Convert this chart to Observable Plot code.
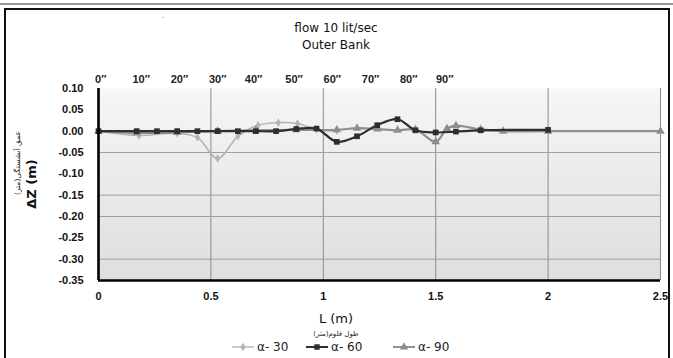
<!DOCTYPE html>
<html>
<head>
<meta charset="utf-8">
<script src="https://cdn.jsdelivr.net/npm/d3@7"></script>
<script src="https://cdn.jsdelivr.net/npm/@observablehq/plot@0.6"></script>
<style>
  html, body { margin: 0; padding: 0; background: #fff; }
  #chart { width: 673px; height: 358px; }
</style>
</head>
<body>
<div id="chart"></div>
<script>
// ---- data ----
const seriesNames = ["α- 30", "α- 60", "α- 90"];

const L30 = [0, 0.18, 0.35, 0.44, 0.53, 0.62, 0.71, 0.80, 0.885, 0.97, 1.06];
const Z30 = [0, -0.010, -0.005, -0.015, -0.064, -0.012, 0.014, 0.020, 0.018, 0.004, 0.001];

const L60 = [0, 0.17, 0.26, 0.35, 0.44, 0.53, 0.62, 0.70, 0.79, 0.88, 0.97, 1.06, 1.15, 1.24, 1.33, 1.41, 1.50, 1.59, 1.70, 2.0];
const Z60 = [0, 0, 0, 0, 0, 0, 0, 0, 0, 0.005, 0.006, -0.025, -0.012, 0.014, 0.028, 0.002, -0.003, -0.001, 0.002, 0.003];

const L90 = [0, 0.17, 0.35, 0.53, 0.70, 0.88, 1.06, 1.15, 1.24, 1.33, 1.41, 1.50, 1.55, 1.59, 1.70, 1.80, 2.0, 2.5];
const Z90 = [0, -0.004, -0.003, 0, 0.002, 0.003, 0.003, 0.007, 0.005, 0.002, 0.004, -0.025, 0.006, 0.013, 0.004, 0, 0, 0];

const xTicks = [0, 0.5, 1, 1.5, 2, 2.5];
const xTickLabels = ["0", "0.5", "1", "1.5", "2", "2.5"];
const yTicks = [0.10, 0.05, 0.00, -0.05, -0.10, -0.15, -0.20, -0.25, -0.30, -0.35];
const yGridVisible = [-0.05, -0.15, -0.20, -0.30];
const degLabels = ["0″", "10″", "20″", "30″", "40″", "50″", "60″", "70″", "80″", "90″"];
const degPos = [0.01, 0.19, 0.36, 0.53, 0.69, 0.87, 1.04, 1.21, 1.38, 1.54];

// ---- styles ----
const colors = {"α- 30": "#b4b4b4", "α- 60": "#2e2e2e", "α- 90": "#8e8e8e"};
const symbols = {"α- 30": "diamond", "α- 60": "square", "α- 90": "triangle"};
const widths = {"α- 30": 1.6, "α- 60": 2.2, "α- 90": 2.2};

function rows(name, Ls, Zs) { return Ls.map((L, i) => ({series: name, L, dz: Zs[i]})); }
const s30 = rows("α- 30", L30, Z30);
const s60 = rows("α- 60", L60, Z60);
const s90 = rows("α- 90", L90, Z90);
const order = [["α- 30", s30], ["α- 90", s90], ["α- 60", s60]];

const marks = [
  Plot.frame({fill: "url(#bgGrad)", stroke: "none"}),
  Plot.gridX(xTicks.filter(d => d > 0), {stroke: "#8a8a8a", strokeOpacity: 1, strokeWidth: 1}),
  Plot.gridY(yGridVisible, {stroke: "#a0a0a0", strokeOpacity: 1, strokeWidth: 1}),
  Plot.axisY(yTicks, {tickSize: 0, tickPadding: 15, tickFormat: d => d.toFixed(2), fontWeight: "bold", fontSize: 11, label: null}),
  Plot.axisX(xTicks, {tickSize: 0, tickPadding: 12, tickFormat: (d, i) => xTickLabels[xTicks.indexOf(d)], fontWeight: "bold", fontSize: 11, label: null}),
  Plot.text(degLabels, {x: degPos, text: degLabels, frameAnchor: "top", dy: -13, fontSize: 11, fontWeight: "bold", fill: "#222"})
];
for (const [name, d] of order) {
  marks.push(Plot.line(d, {x: "L", y: "dz", stroke: colors[name], strokeWidth: widths[name], curve: "catmull-rom"}));
  marks.push(Plot.dot(d, {x: "L", y: "dz", fill: colors[name], symbol: symbols[name], r: name === "α- 30" ? 2.6 : 3.2, stroke: "none"}));
}
marks.push(Plot.ruleX([0], {stroke: "black", strokeWidth: 2.6}));
marks.push(Plot.ruleY([-0.35], {stroke: "black", strokeWidth: 2.6}));

const svgEl = Plot.plot({
  width: 673, height: 358,
  marginTop: 88, marginBottom: 78, marginLeft: 98, marginRight: 13,
  style: {background: "white", fontFamily: "'Liberation Sans', Arial, sans-serif", color: "#111"},
  x: {domain: [0, 2.5]},
  y: {domain: [-0.35, 0.10]},
  marks
});

const svg = d3.select(svgEl);
const defs = svg.insert("defs", ":first-child");
const g = defs.append("linearGradient").attr("id", "bgGrad").attr("x1", 0).attr("y1", 0).attr("x2", 0).attr("y2", 1);
g.append("stop").attr("offset", "0%").attr("stop-color", "#f6f6f6");
g.append("stop").attr("offset", "100%").attr("stop-color", "#dedede");

// chart border
svg.append("line").attr("x1", 0).attr("x2", 673).attr("y1", 4).attr("y2", 4).attr("stroke", "#999").attr("stroke-width", 2);
svg.append("rect").attr("x", 5).attr("y", 9).attr("width", 664).attr("height", 352)
  .attr("fill", "none").attr("stroke", "#111").attr("stroke-width", 2);

// titles
const titleFont = "'DejaVu Sans', sans-serif";
svg.append("text").attr("x", 336).attr("y", 32).attr("text-anchor", "middle")
  .attr("font-family", titleFont).attr("font-size", 12).attr("fill", "#111").text("flow 10 lit/sec");
svg.append("text").attr("x", 336).attr("y", 49).attr("text-anchor", "middle")
  .attr("font-family", titleFont).attr("font-size", 12).attr("fill", "#111").text("Outer Bank");
svg.append("text").attr("x", 163).attr("y", 20).attr("font-size", 8).attr("fill", "#333").text("·");

// x axis titles
svg.append("text").attr("x", 336).attr("y", 323).attr("text-anchor", "middle")
  .attr("font-family", titleFont).attr("font-size", 13).attr("fill", "#111").text("L (m)");
svg.append("text").attr("x", 336).attr("y", 336).attr("text-anchor", "middle")
  .attr("font-family", "'DejaVu Sans', sans-serif").attr("font-size", 7).attr("fill", "#222").text("طول فلوم(متر)");

// y axis titles
svg.append("text").attr("transform", "translate(36,184) rotate(-90)").attr("text-anchor", "middle")
  .attr("font-family", "'DejaVu Sans', sans-serif").attr("font-weight", "bold").attr("font-size", 13).attr("fill", "#111").text("ΔZ (m)");
svg.append("text").attr("transform", "translate(20,163) rotate(-90)").attr("text-anchor", "middle")
  .attr("font-family", "'DejaVu Sans', sans-serif").attr("font-size", 7.5).attr("fill", "#222").text("عمق آبشستگی(متر)");

// legend
const legendX = [232, 306, 393];
const symMap = {diamond: d3.symbolDiamond, square: d3.symbolSquare, triangle: d3.symbolTriangle};
seriesNames.forEach((name, i) => {
  const x0 = legendX[i], y0 = 351;
  const item = svg.append("g");
  item.append("line").attr("x1", x0).attr("x2", x0 + 22).attr("y1", y0 - 4).attr("y2", y0 - 4)
    .attr("stroke", colors[name]).attr("stroke-width", name === "α- 30" ? 1.4 : 2);
  item.append("path").attr("d", d3.symbol(symMap[symbols[name]], name === "α- 30" ? 22 : 30)())
    .attr("transform", `translate(${x0 + 11},${y0 - 4})`).attr("fill", colors[name]);
  item.append("text").attr("x", x0 + 25).attr("y", y0).attr("text-anchor", "start").attr("font-family", titleFont)
    .attr("font-size", 12).attr("fill", "#222").text(name);
});

document.getElementById("chart").appendChild(svgEl);
</script>
</body>
</html>
